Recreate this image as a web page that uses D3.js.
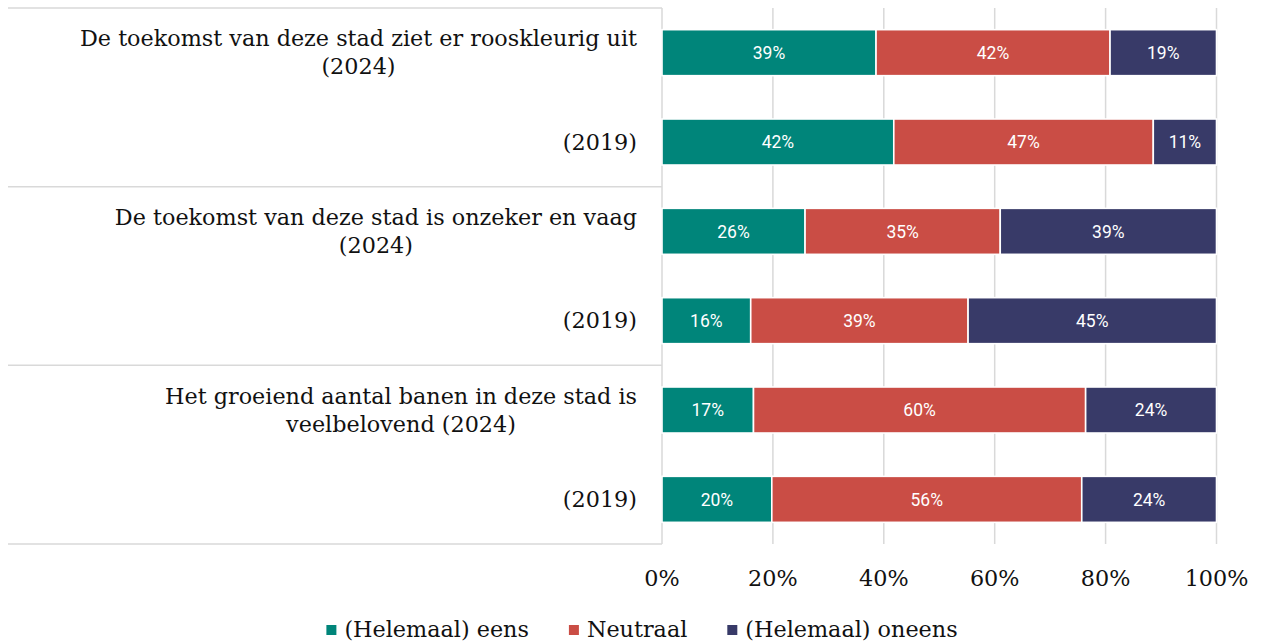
<!DOCTYPE html>
<html><head><meta charset="utf-8">
<script src="https://cdn.jsdelivr.net/npm/d3@7"></script>
<style>body{margin:0;background:#fff}svg{display:block}</style>
</head><body>
<svg id="c" width="1263" height="643"></svg>
<script>
const categories = [
  ["De toekomst van deze stad ziet er rooskleurig uit", "(2024)"],
  ["(2019)"],
  ["De toekomst van deze stad is onzeker en vaag", "(2024)"],
  ["(2019)"],
  ["Het groeiend aantal banen in deze stad is", "veelbelovend (2024)"],
  ["(2019)"]
];
const seriesNames = ["(Helemaal) eens", "Neutraal", "(Helemaal) oneens"];
const eens     = [38.6, 41.8, 25.8, 16.0, 16.5, 19.8];
const neutraal = [42.2, 46.8, 35.2, 39.2, 59.9, 55.9];
const oneens   = [19.2, 11.4, 39.0, 44.8, 23.6, 24.3];
const tickValues = [0, 20, 40, 60, 80, 100];
const colors = ["#00857A", "#CA4D45", "#383A68"];

(function(){
const svg = d3.select("#c");
const pLeft = 662, pRight = 1216.5, pTop = 8, pBottom = 544;
const x = d3.scaleLinear().domain([0, 100]).range([pLeft, pRight]);
const y = d3.scaleBand().domain(d3.range(categories.length)).range([pTop, pBottom]).paddingInner(0.485).paddingOuter(0.2425);
const gridColor = "#d9d9d9";

svg.append("g").selectAll("line").data(tickValues.slice(1)).join("line")
  .attr("x1", d => x(d)).attr("x2", d => x(d)).attr("y1", pTop).attr("y2", pBottom)
  .attr("stroke", gridColor).attr("stroke-width", 1.5);
svg.append("line").attr("x1", pLeft).attr("x2", pLeft).attr("y1", pTop).attr("y2", pBottom)
  .attr("stroke", gridColor).attr("stroke-width", 1.5);
const step = (pBottom - pTop) / 3;
const seps = [0, 1, 2, 3].map(k => pTop + k * step);
svg.append("g").selectAll("line").data(seps).join("line")
  .attr("x1", 8).attr("x2", pLeft).attr("y1", d => d).attr("y2", d => d)
  .attr("stroke", gridColor).attr("stroke-width", 1.5);

const rows = eens.map((v, i) => [eens[i], neutraal[i], oneens[i]]);
const stackData = rows.map((vals, i) => { let acc = 0; return vals.map((v, k) => { const s = {i, k, v, x0: acc, x1: acc + v}; acc += v; return s; }); }).flat();

svg.append("g").selectAll("rect").data(stackData).join("rect")
  .attr("x", d => x(d.x0)).attr("width", d => x(d.x1) - x(d.x0))
  .attr("y", d => y(d.i)).attr("height", y.bandwidth())
  .attr("fill", d => colors[d.k]).attr("stroke", "#fff").attr("stroke-width", 1.6);

svg.append("g").selectAll("text").data(stackData).join("text")
  .attr("x", d => (x(d.x0) + x(d.x1)) / 2).attr("y", d => y(d.i) + y.bandwidth() / 2)
  .attr("dy", "0.36em").attr("text-anchor", "middle")
  .attr("font-family", "Roboto, sans-serif").attr("font-size", 17.5).attr("fill", "#fff")
  .text(d => Math.round(d.v) + "%");

const serif = "'DejaVu Serif', serif";
const labelFont = 22.3;
const lh = 28;
const lg = svg.append("g");
categories.forEach((lines, i) => {
  const cy = y(i) + y.bandwidth() / 2;
  const t = lg.append("text").attr("font-family", serif).attr("font-size", labelFont).attr("fill", "#111");
  const spans = lines.map((l, j) => t.append("tspan").attr("y", cy + (j - (lines.length - 1) / 2) * lh).attr("dy", "0.35em").text(l));
  const widths = spans.map(s => s.node().getComputedTextLength());
  const maxW = Math.max(...widths);
  const rightEdge = 637;
  spans.forEach(s => s.attr("x", rightEdge - maxW / 2).attr("text-anchor", "middle"));
});

svg.append("g").selectAll("text").data(tickValues).join("text")
  .attr("x", d => x(d)).attr("y", 578).attr("dy", "0.35em").attr("text-anchor", "middle")
  .attr("font-family", serif).attr("font-size", 22.3).attr("fill", "#111")
  .text(d => d + "%");

const leg = svg.append("g");
const items = seriesNames.map((n, k) => {
  const g = leg.append("g");
  g.append("rect").attr("width", 10).attr("height", 10).attr("y", -4).attr("fill", colors[k]);
  const t = g.append("text").attr("x", 18).attr("dy", "0.35em").attr("font-family", serif).attr("font-size", 22.3).attr("fill", "#111").text(n);
  return {g, w: 18 + t.node().getComputedTextLength()};
});
const gap = 40;
const totalW = d3.sum(items, d => d.w) + gap * (items.length - 1);
let cx = 642 - totalW / 2;
items.forEach(it => { it.g.attr("transform", `translate(${cx},629)`); cx += it.w + gap; });
})();
</script>
</body></html>
